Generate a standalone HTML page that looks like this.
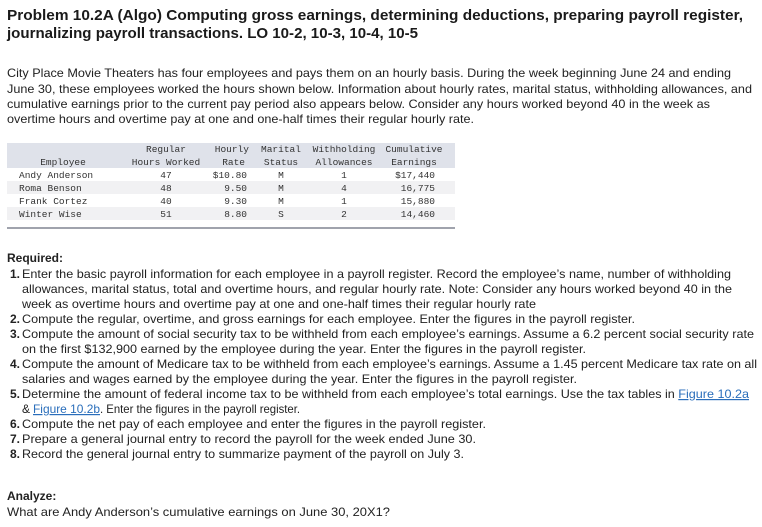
<!DOCTYPE html>
<html><head><meta charset="utf-8"><style>
html,body{margin:0;padding:0;background:#fff;}
svg{display:block;}
text{font-family:"Liberation Sans",Arial,sans-serif;fill:#222;}
.t{font-size:15px;font-weight:bold;fill:#1a1a1a;}
.p{font-size:12px;}
.b{font-size:12px;font-weight:bold;}
.m{font-family:"Liberation Mono","DejaVu Sans Mono",monospace;font-size:9.5px;fill:#333;}
.l{fill:#2a6ebb;text-decoration:underline;}
</style></head><body>
<svg width="762" height="527" xmlns="http://www.w3.org/2000/svg">
<text class="t" x="7" y="20" textLength="736" lengthAdjust="spacingAndGlyphs">Problem 10.2A (Algo) Computing gross earnings, determining deductions, preparing payroll register,</text>
<text class="t" x="7" y="38" textLength="411" lengthAdjust="spacingAndGlyphs">journalizing payroll transactions. LO 10-2, 10-3, 10-4, 10-5</text>

<text class="p" x="7" y="77" textLength="724" lengthAdjust="spacingAndGlyphs">City Place Movie Theaters has four employees and pays them on an hourly basis. During the week beginning June 24 and ending</text>
<text class="p" x="7" y="93" textLength="745" lengthAdjust="spacingAndGlyphs">June 30, these employees worked the hours shown below. Information about hourly rates, marital status, withholding allowances, and</text>
<text class="p" x="7" y="108" textLength="703" lengthAdjust="spacingAndGlyphs">cumulative earnings prior to the current pay period also appears below. Consider any hours worked beyond 40 in the week as</text>
<text class="p" x="7" y="123" textLength="467" lengthAdjust="spacingAndGlyphs">overtime hours and overtime pay at one and one-half times their regular hourly rate.</text>

<rect x="7" y="143" width="448" height="25" fill="#dfe2ea"/>
<rect x="7" y="168" width="448" height="13" fill="#ffffff"/>
<rect x="7" y="181" width="448" height="13" fill="#f1f1f3"/>
<rect x="7" y="194" width="448" height="13" fill="#ffffff"/>
<rect x="7" y="207" width="448" height="13" fill="#f1f1f3"/>
<rect x="7" y="227" width="448" height="2" fill="#a0a3ad"/>
<g>
<text class="m" x="166" y="152" text-anchor="middle">Regular</text>
<text class="m" x="249" y="152" text-anchor="end">Hourly</text>
<text class="m" x="281" y="152" text-anchor="middle">Marital</text>
<text class="m" x="344" y="152" text-anchor="middle">Withholding</text>
<text class="m" x="414" y="152" text-anchor="middle">Cumulative</text>
<text class="m" x="63" y="165" text-anchor="middle">Employee</text>
<text class="m" x="166" y="165" text-anchor="middle">Hours Worked</text>
<text class="m" x="245" y="165" text-anchor="end">Rate</text>
<text class="m" x="281" y="165" text-anchor="middle">Status</text>
<text class="m" x="344" y="165" text-anchor="middle">Allowances</text>
<text class="m" x="414" y="165" text-anchor="middle">Earnings</text>

<text class="m" x="19" y="178">Andy Anderson</text>
<text class="m" x="166" y="178" text-anchor="middle">47</text>
<text class="m" x="247" y="178" text-anchor="end">$10.80</text>
<text class="m" x="281" y="178" text-anchor="middle">M</text>
<text class="m" x="344" y="178" text-anchor="middle">1</text>
<text class="m" x="435" y="178" text-anchor="end">$17,440</text>

<text class="m" x="19" y="191">Roma Benson</text>
<text class="m" x="166" y="191" text-anchor="middle">48</text>
<text class="m" x="247" y="191" text-anchor="end">9.50</text>
<text class="m" x="281" y="191" text-anchor="middle">M</text>
<text class="m" x="344" y="191" text-anchor="middle">4</text>
<text class="m" x="435" y="191" text-anchor="end">16,775</text>

<text class="m" x="19" y="204">Frank Cortez</text>
<text class="m" x="166" y="204" text-anchor="middle">40</text>
<text class="m" x="247" y="204" text-anchor="end">9.30</text>
<text class="m" x="281" y="204" text-anchor="middle">M</text>
<text class="m" x="344" y="204" text-anchor="middle">1</text>
<text class="m" x="435" y="204" text-anchor="end">15,880</text>

<text class="m" x="19" y="217">Winter Wise</text>
<text class="m" x="166" y="217" text-anchor="middle">51</text>
<text class="m" x="247" y="217" text-anchor="end">8.80</text>
<text class="m" x="281" y="217" text-anchor="middle">S</text>
<text class="m" x="344" y="217" text-anchor="middle">2</text>
<text class="m" x="435" y="217" text-anchor="end">14,460</text>
</g>

<text class="b" x="7" y="262">Required:</text>
<text class="b" x="20" y="278" text-anchor="end">1.</text>
<text class="p" x="22" y="278" textLength="709" lengthAdjust="spacingAndGlyphs">Enter the basic payroll information for each employee in a payroll register. Record the employee’s name, number of withholding</text>
<text class="p" x="22" y="293" textLength="710" lengthAdjust="spacingAndGlyphs">allowances, marital status, total and overtime hours, and regular hourly rate. Note: Consider any hours worked beyond 40 in the</text>
<text class="p" x="22" y="308" textLength="514" lengthAdjust="spacingAndGlyphs">week as overtime hours and overtime pay at one and one-half times their regular hourly rate</text>
<text class="b" x="20" y="323" text-anchor="end">2.</text>
<text class="p" x="22" y="323" textLength="613" lengthAdjust="spacingAndGlyphs">Compute the regular, overtime, and gross earnings for each employee. Enter the figures in the payroll register.</text>
<text class="b" x="20" y="338" text-anchor="end">3.</text>
<text class="p" x="22" y="338" textLength="732" lengthAdjust="spacingAndGlyphs">Compute the amount of social security tax to be withheld from each employee’s earnings. Assume a 6.2 percent social security rate</text>
<text class="p" x="22" y="353" textLength="564" lengthAdjust="spacingAndGlyphs">on the first $132,900 earned by the employee during the year. Enter the figures in the payroll register.</text>
<text class="b" x="20" y="368" text-anchor="end">4.</text>
<text class="p" x="22" y="368" textLength="735" lengthAdjust="spacingAndGlyphs">Compute the amount of Medicare tax to be withheld from each employee’s earnings. Assume a 1.45 percent Medicare tax rate on all</text>
<text class="p" x="22" y="383" textLength="555" lengthAdjust="spacingAndGlyphs">salaries and wages earned by the employee during the year. Enter the figures in the payroll register.</text>
<text class="b" x="20" y="398" text-anchor="end">5.</text>
<text class="p" x="22" y="398" textLength="727" lengthAdjust="spacingAndGlyphs">Determine the amount of federal income tax to be withheld from each employee’s total earnings. Use the tax tables in <tspan class="l">Figure 10.2a</tspan></text>
<text class="p" x="22" y="413">&amp;</text>
<text class="p l" x="33" y="413" textLength="67" lengthAdjust="spacingAndGlyphs">Figure 10.2b</text>
<text class="p" x="100" y="413" textLength="200" lengthAdjust="spacingAndGlyphs">. Enter the figures in the payroll register.</text>
<text class="b" x="20" y="428" text-anchor="end">6.</text>
<text class="p" x="22" y="428" textLength="464" lengthAdjust="spacingAndGlyphs">Compute the net pay of each employee and enter the figures in the payroll register.</text>
<text class="b" x="20" y="443" text-anchor="end">7.</text>
<text class="p" x="22" y="443" textLength="454" lengthAdjust="spacingAndGlyphs">Prepare a general journal entry to record the payroll for the week ended June 30.</text>
<text class="b" x="20" y="458" text-anchor="end">8.</text>
<text class="p" x="22" y="458" textLength="442" lengthAdjust="spacingAndGlyphs">Record the general journal entry to summarize payment of the payroll on July 3.</text>

<text class="b" x="7" y="500">Analyze:</text>
<text class="p" x="7" y="516" textLength="383" lengthAdjust="spacingAndGlyphs">What are Andy Anderson’s cumulative earnings on June 30, 20X1?</text>
</svg>
</body></html>
